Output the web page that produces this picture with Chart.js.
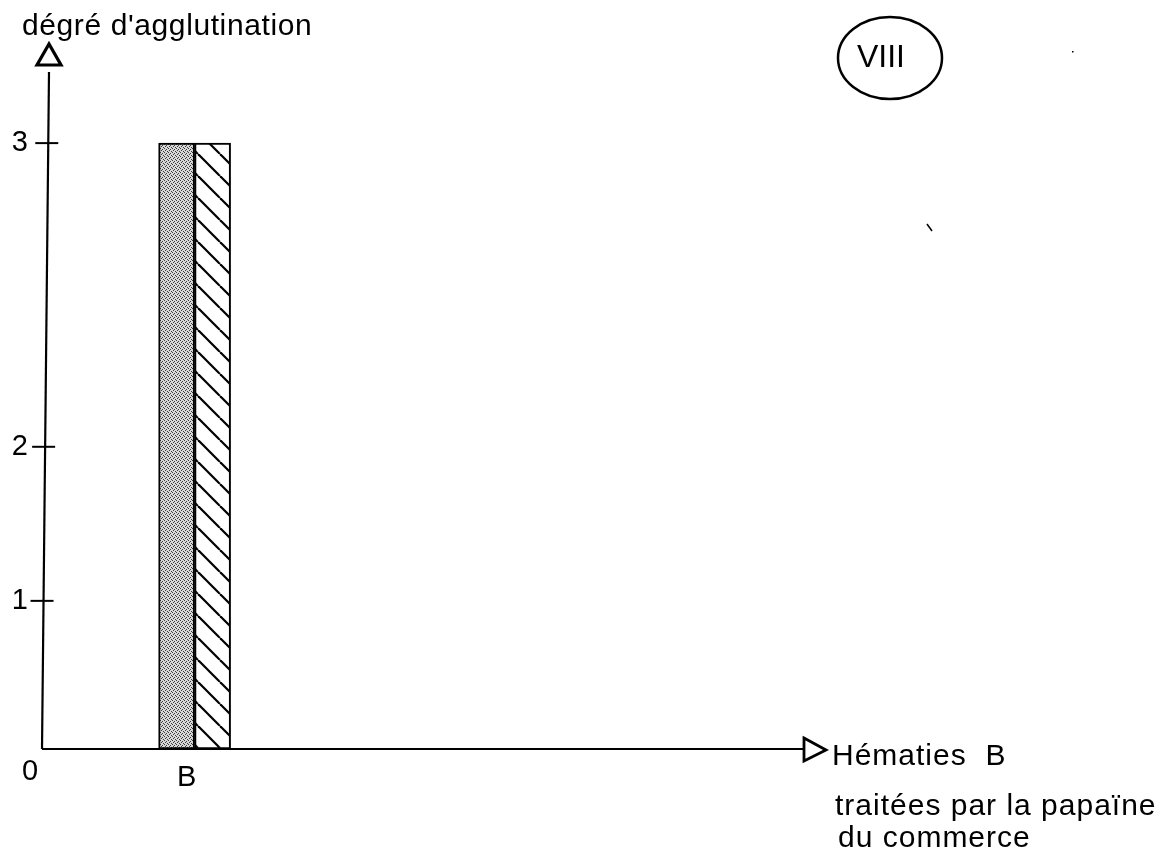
<!DOCTYPE html>
<html><head><meta charset="utf-8">
<script src="https://cdn.jsdelivr.net/npm/chart.js@4/dist/chart.umd.min.js"></script>
<style>html,body{margin:0;padding:0;background:#fff}#wrap{width:1169px;height:859px}</style>
</head><body><div id="wrap"><canvas id="c" width="1169" height="859"></canvas></div>
<script>
// ---- data ----
const categories = ['B'];
const categoryPos = [2];
const greyValues = [3];
const hatchedValues = [3];
const tickLabels = ['0', '1', '2', '3'];
const tickDegrees = [0, 1, 2, 3];
const yTitle = "dégré d'agglutination";
const xTitle = ['Hématies  B', 'traitées par la papaïne', 'du commerce'];
const panelLabel = 'VIII';

// the original hand-drawn axis is not evenly graduated: position of each degree on the axis
const tickAxisPos = [0, 1, 2.04, 4.09];
function degToAxis(d) {
  for (let i = 1; i < tickDegrees.length; i++) {
    if (d <= tickDegrees[i]) {
      const t = (d - tickDegrees[i - 1]) / (tickDegrees[i] - tickDegrees[i - 1]);
      return tickAxisPos[i - 1] + t * (tickAxisPos[i] - tickAxisPos[i - 1]);
    }
  }
  return tickAxisPos[tickAxisPos.length - 1];
}

// ---- patterns ----
function greyPattern() {
  const c = document.createElement('canvas'); c.width = 4; c.height = 4;
  const g = c.getContext('2d');
  g.fillStyle = '#d8d8d8'; g.fillRect(0, 0, 4, 4);
  g.fillStyle = '#3a3a3a';
  [[0,0],[2,1],[1,2],[3,3]].forEach(([x,y]) => g.fillRect(x, y, 1, 1));
  return g.createPattern(c, 'repeat');
}
function hatchPattern() {
  const s = 22;
  const c = document.createElement('canvas'); c.width = s; c.height = s;
  const g = c.getContext('2d');
  g.fillStyle = '#fff'; g.fillRect(0, 0, s, s);
  g.strokeStyle = '#000'; g.lineWidth = 2.2;
  [-1, 0, 1].forEach(k => { g.beginPath(); g.moveTo(k * s, 0); g.lineTo(k * s + s, s); g.stroke(); });
  return g.createPattern(c, 'repeat');
}

const FONT = '"Liberation Sans", Arial, sans-serif';

const decor = {
  id: 'decor',
  afterDraw(chart) {
    const { ctx, chartArea: a } = chart;
    const ys = chart.scales.y;
    const slant = 7;
    const xAt = y => a.left + slant * (a.bottom - y) / (a.bottom - a.top);
    ctx.save();
    ctx.strokeStyle = '#000'; ctx.fillStyle = '#000';
    // axes
    ctx.lineWidth = 2.2;
    ctx.beginPath(); ctx.moveTo(a.left, a.bottom); ctx.lineTo(a.left + slant, a.top); ctx.stroke();
    ctx.beginPath(); ctx.moveTo(a.left, a.bottom); ctx.lineTo(a.right, a.bottom); ctx.stroke();
    // tick marks crossing the axis
    ctx.lineWidth = 2;
    tickAxisPos.slice(1).forEach(v => {
      const y = ys.getPixelForValue(v); const x = xAt(y);
      ctx.beginPath(); ctx.moveTo(x - 13, y); ctx.lineTo(x + 10, y); ctx.stroke();
    });
    // arrows
    ctx.lineWidth = 3.2; ctx.lineJoin = 'miter';
    const tx = a.left + slant;
    ctx.beginPath(); ctx.moveTo(tx - 12, a.top - 7); ctx.lineTo(tx + 12, a.top - 7); ctx.lineTo(tx, a.top - 28); ctx.closePath(); ctx.stroke();
    ctx.lineWidth = 2.8;
    ctx.beginPath(); ctx.moveTo(a.right - 1, a.bottom - 11); ctx.lineTo(a.right + 21, a.bottom + 1); ctx.lineTo(a.right - 1, a.bottom + 12); ctx.closePath(); ctx.stroke();
    // texts
    ctx.textBaseline = 'alphabetic'; ctx.textAlign = 'left';
    ctx.font = '30px ' + FONT;
    ctx.letterSpacing = '0.6px';
    ctx.fillText(yTitle, 22, 35);
    ctx.letterSpacing = '1px';
    ctx.fillText(xTitle[0], a.right + 27, a.bottom + 16);
    ctx.fillText(xTitle[1], a.right + 30, a.bottom + 66);
    ctx.fillText(xTitle[2], a.right + 33, a.bottom + 98);
    ctx.letterSpacing = '0px';
    ctx.font = '29px ' + FONT;
    ctx.textAlign = 'center'; ctx.textBaseline = 'middle';
    ctx.fillText(tickLabels[0], 30, a.bottom + 23);
    // panel label
    ctx.lineWidth = 2.5;
    ctx.beginPath(); ctx.ellipse(890, 58, 52, 41, 0, 0, Math.PI * 2); ctx.stroke();
    ctx.font = '32px ' + FONT;
    ctx.fillText(panelLabel, 881, 58);
    // small specks of the scan
    ctx.lineWidth = 1.5;
    ctx.beginPath(); ctx.moveTo(927, 224); ctx.lineTo(932, 231); ctx.stroke();
    ctx.fillRect(1072, 51, 1.5, 1.5);
    ctx.restore();
  }
};

const ctx = document.getElementById('c').getContext('2d');
new Chart(ctx, {
  type: 'bar',
  data: {
    datasets: [
      {
        label: 'grey',
        data: categoryPos.map((x, i) => ({ x, y: degToAxis(greyValues[i]) })),
        backgroundColor: greyPattern(),
        borderColor: '#000', borderWidth: 2, borderSkipped: false, barThickness: 36
      },
      {
        label: 'hatched',
        data: categoryPos.map((x, i) => ({ x, y: degToAxis(hatchedValues[i]) })),
        backgroundColor: hatchPattern(),
        borderColor: '#000', borderWidth: 2, borderSkipped: false, barThickness: 36
      }
    ]
  },
  options: {
    responsive: false, animation: false,
    layout: { padding: { left: 0, right: 364, top: 72, bottom: 0 } },
    plugins: { legend: { display: false }, tooltip: { enabled: false }, title: { display: false } },
    scales: {
      x: {
        type: 'linear', min: 0, max: 10, offset: false,
        grid: { display: false, drawTicks: false }, border: { display: false },
        afterBuildTicks: s => { s.ticks = categoryPos.map(v => ({ value: v })); },
        afterFit: s => { s.height = 110; },
        ticks: {
          callback: v => { const i = categoryPos.indexOf(v); return i >= 0 ? categories[i] : ''; },
          font: { family: FONT, size: 29 }, color: '#000', padding: 12, labelOffset: -8,
          maxRotation: 0, autoSkip: false
        }
      },
      y: {
        type: 'linear', min: 0, max: 4.57,
        grid: { display: false, drawTicks: false }, border: { display: false },
        afterBuildTicks: s => { s.ticks = tickAxisPos.map(v => ({ value: v })); },
        afterFit: s => { s.width = 42; },
        ticks: {
          callback: (v, i) => (i === 0 ? '' : tickLabels[i]),
          font: { family: FONT, size: 29 }, color: '#000', padding: 14, autoSkip: false
        }
      }
    }
  },
  plugins: [decor]
});
</script>
</body></html>
